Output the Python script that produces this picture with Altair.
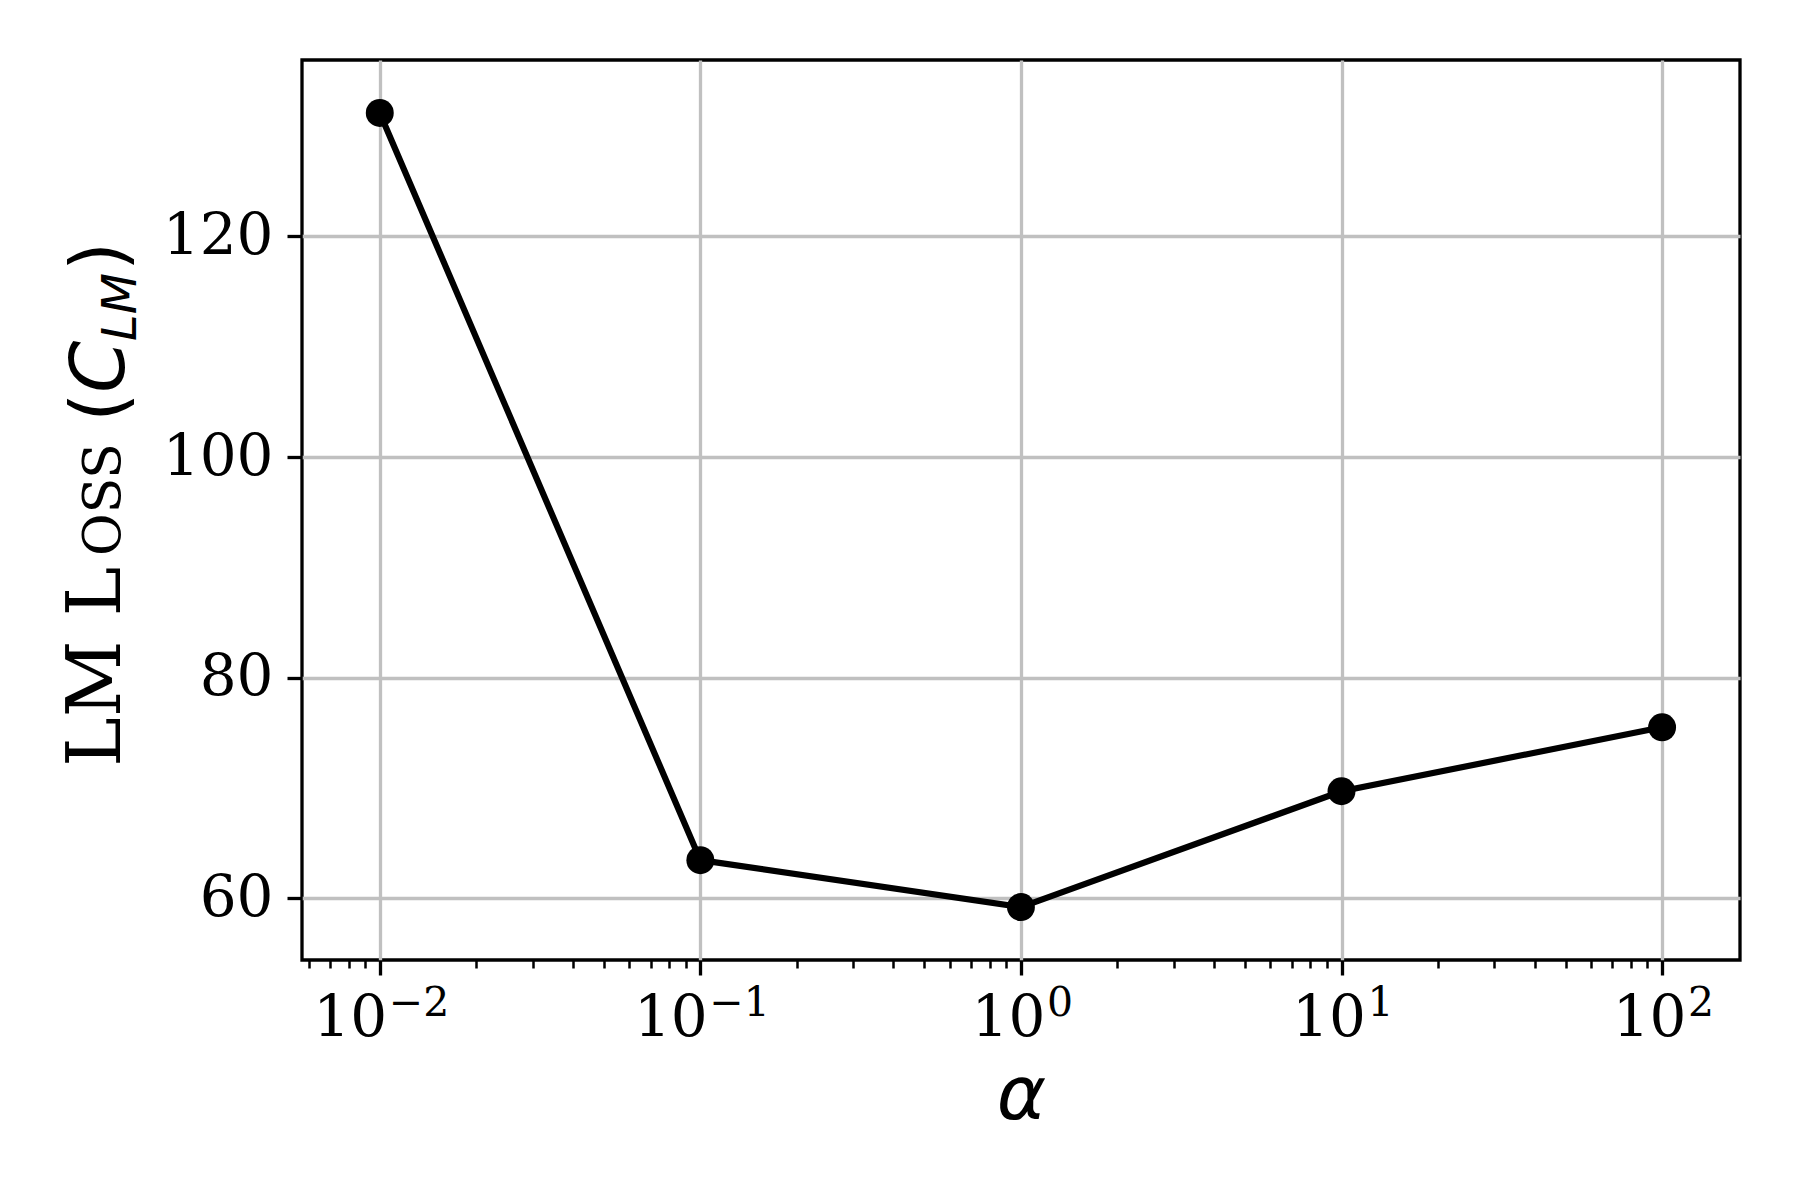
import altair as alt
import pandas as pd

# data
alpha = [0.01, 0.1, 1, 10, 100]
lm_loss = [131.2, 63.45, 59.2, 69.7, 75.5]

x_major = [0.01, 0.1, 1, 10, 100]
x_exponent = ["−2", "−1", "0", "1", "2"]
x_minor = [0.006, 0.007, 0.008, 0.009,
           0.02, 0.03, 0.04, 0.05, 0.06, 0.07, 0.08, 0.09,
           0.2, 0.3, 0.4, 0.5, 0.6, 0.7, 0.8, 0.9,
           2, 3, 4, 5, 6, 7, 8, 9,
           20, 30, 40, 50, 60, 70, 80, 90]
y_ticks = [60, 80, 100, 120]
x_domain = [0.00572, 175.0]
y_domain = [54.4, 136.0]

# y title pieces: text, font, style, size, x, y (pixel offsets from plot origin)
ytitle_text = ["LM L", "OSS", "(", "C", "LM", ")"]
ytitle_font = ["DejaVu Serif", "DejaVu Serif", "DejaVu Sans", "DejaVu Sans", "DejaVu Sans", "DejaVu Sans"]
ytitle_style = ["normal", "normal", "normal", "italic", "italic", "normal"]
ytitle_size = [75, 52, 75, 75, 48, 75]
ytitle_x = [-182, -182, -178, -178, -166, -178]
ytitle_y = [707, 496, 362, 333, 281, 211]

W, H = 1438, 900

df = pd.DataFrame({"alpha": alpha, "loss": lm_loss})
ticks_df = pd.DataFrame({"tick": x_major, "exp": x_exponent})

E = "log(datum.value)/LN10"
MAJOR = f"abs({E} - round({E})) < 0.001"

x_axis = alt.Axis(
    values=sorted(x_major + x_minor),
    labelExpr=f"{MAJOR} ? '10' : ''",
    labelFont="DejaVu Serif",
    labelFontSize=58,
    labelColor="black",
    labelPadding=14,
    labelOverlap=False,
    labelFlush=False,
    labelOffset={"condition": {"test": "datum.value < 0.5", "value": -30}, "value": -13},
    tickColor="black",
    tickWidth={"condition": {"test": MAJOR, "value": 3.3}, "value": 2.5},
    tickSize={"condition": {"test": MAJOR, "value": 15}, "value": 8},
    gridOpacity={"condition": {"test": MAJOR, "value": 1}, "value": 0},
    gridColor="#c0c0c0",
    gridWidth=3.3,
    domain=False,
    title="α",
    titleFont="DejaVu Sans",
    titleFontStyle="italic",
    titleFontWeight="normal",
    titleFontSize=75,
    titleColor="black",
    titlePadding=12,
)

y_axis = alt.Axis(
    values=y_ticks,
    labelFont="DejaVu Serif",
    labelFontSize=58,
    labelColor="black",
    labelPadding=14,
    tickColor="black",
    tickWidth=3.3,
    tickSize=15,
    gridColor="#c0c0c0",
    gridWidth=3.3,
    domain=False,
    title=None,
)

xs = alt.X("alpha:Q", scale=alt.Scale(type="log", domain=x_domain, nice=False), axis=x_axis)
ys = alt.Y("loss:Q", scale=alt.Scale(domain=y_domain, nice=False, zero=False), axis=y_axis)

line = alt.Chart(df).mark_line(color="black", strokeWidth=6.2).encode(x=xs, y=ys)
pts = alt.Chart(df).mark_circle(color="black", opacity=1, size=780).encode(x=xs, y=ys)

layers = [line, pts]

# exponents of the x tick labels (10^k), placed at the major tick values
for cond, dx in [("datum.tick < 0.5", 9), ("datum.tick > 0.5", 26)]:
    layers.append(
        alt.Chart(ticks_df).transform_filter(cond).mark_text(
            align="left", baseline="alphabetic", font="DejaVu Serif",
            fontSize=41, color="black", dx=dx
        ).encode(
            x=alt.X("tick:Q", scale=alt.Scale(type="log", domain=x_domain, nice=False)),
            y=alt.value(H + 56),
            text="exp:N",
        )
    )

for t, f, st, sz, px, py in zip(ytitle_text, ytitle_font, ytitle_style, ytitle_size, ytitle_x, ytitle_y):
    layers.append(
        alt.Chart(pd.DataFrame({"t": [t]})).mark_text(
            angle=270, align="left", baseline="alphabetic", font=f,
            fontStyle=st, fontSize=sz, color="black"
        ).encode(text="t:N", x=alt.value(px), y=alt.value(py))
    )

chart = alt.layer(*layers).properties(
    width=W, height=H,
    autosize=alt.AutoSizeParams(type="none"),
    padding={"left": 294, "top": 52, "right": 52, "bottom": 232},
    background="white",
).configure_view(stroke="black", strokeWidth=3.3)

chart.save("out.html", embed_options={"renderer": "svg", "actions": False})
